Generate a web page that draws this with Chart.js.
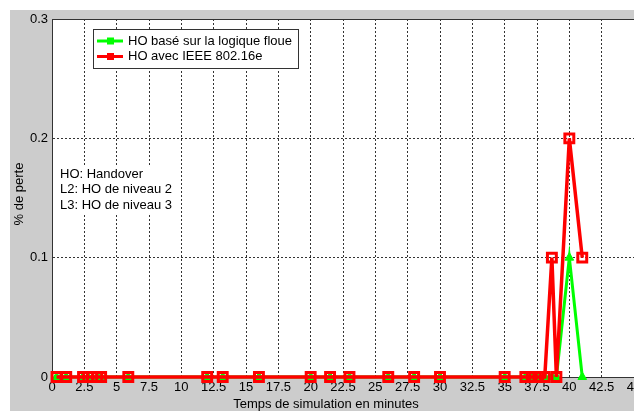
<!DOCTYPE html>
<html>
<head>
<meta charset="utf-8">
<script src="https://cdn.jsdelivr.net/npm/chart.js@4.4.1/dist/chart.umd.min.js"></script>
<style>
  html, body { margin: 0; padding: 0; background: #ffffff; width: 634px; height: 411px; overflow: hidden; }
  #graphe { position: absolute; left: 10px; top: 10px; background: #cccccc; }
</style>
</head>
<body>
<canvas id="graphe" width="624" height="401"></canvas>
<script>
// temps de simulation (minutes)
var simTimes = [0.35, 1.1, 2.4, 2.8, 3.5, 3.8, 5.9, 12, 13.2, 16, 20, 21.5, 23, 26, 28, 30, 35, 36.6, 37.1, 37.6, 38.1, 38.65, 39, 40, 41];
// % de perte
var perteFloue = [0, 0, 0, 0, 0, 0, 0, 0, 0, 0, 0, 0, 0, 0, 0, 0, 0, 0, 0, 0, 0, 0, 0, 0.1, 0];
var perteIEEE  = [0, 0, 0, 0, 0, 0, 0, 0, 0, 0, 0, 0, 0, 0, 0, 0, 0, 0, 0, 0, 0, 0.1, 0, 0.2, 0.1];

var seriesNames = ['HO basé sur la logique floue', 'HO avec IEEE 802.16e'];
var xTickLabels = ['0', '2.5', '5', '7.5', '10', '12.5', '15', '17.5', '20', '22.5', '25', '27.5', '30', '32.5', '35', '37.5', '40', '42.5', '45'];
var yTickLabels = ['0', '0.1', '0.2', '0.3'];
var notes = ['HO: Handover', 'L2: HO de niveau 2', 'L3: HO de niveau 3'];
var xTitle = 'Temps de simulation en minutes';
var yTitle = '% de perte';

var police = '13px "Liberation Sans", Arial, sans-serif';

function points(values) {
    return simTimes.map(function (t, i) { return { x: t, y: values[i] }; });
}

var decor = {
    id: 'decor',
    beforeDraw: function (chart) {
        var a = chart.chartArea, ctx = chart.ctx;
        ctx.save();
        ctx.fillStyle = '#ffffff';
        ctx.fillRect(a.left, a.top, a.right - a.left, a.bottom - a.top);
        ctx.restore();
    },
    beforeDatasetsDraw: function (chart) {
        var a = chart.chartArea, ctx = chart.ctx;
        ctx.save();
        // bord du haut
        ctx.strokeStyle = '#333333';
        ctx.lineWidth = 1;
        ctx.beginPath();
        ctx.moveTo(a.left, a.top + 0.5);
        ctx.lineTo(a.right, a.top + 0.5);
        ctx.stroke();

        // notes (fond blanc qui cache la grille)
        ctx.font = police;
        ctx.fillStyle = '#ffffff';
        ctx.fillRect(a.left + 5, a.top + 146, 118, 48);
        ctx.fillStyle = '#000000';
        ctx.textBaseline = 'middle';
        ctx.textAlign = 'left';
        notes.forEach(function (t, i) {
            ctx.fillText(t, a.left + 8, a.top + 155 + i * 15.5);
        });
        ctx.restore();
    },
    afterDraw: function (chart) {
        var a = chart.chartArea, ctx = chart.ctx;
        ctx.save();
        ctx.font = police;
        ctx.fillStyle = '#000000';
        ctx.textBaseline = 'middle';

        // titres des axes
        ctx.textAlign = 'center';
        ctx.fillText(xTitle, 316, 394);
        ctx.save();
        ctx.translate(9, 184);
        ctx.rotate(-Math.PI / 2);
        ctx.fillText(yTitle, 0, 0);
        ctx.restore();

        // legende
        var bx = a.left + 41, by = a.top + 10, bw = 205, bh = 39;
        ctx.fillStyle = '#ffffff';
        ctx.fillRect(bx, by, bw, bh);
        ctx.strokeStyle = '#333333';
        ctx.lineWidth = 1;
        ctx.strokeRect(bx + 0.5, by + 0.5, bw, bh);
        chart.data.datasets.forEach(function (ds, i) {
            var y = by + 12 + i * 15.5;
            ctx.strokeStyle = ds.borderColor;
            ctx.lineWidth = 3;
            ctx.beginPath();
            ctx.moveTo(bx + 4, y);
            ctx.lineTo(bx + 30, y);
            ctx.stroke();
            ctx.fillStyle = ds.borderColor;
            ctx.fillRect(bx + 14, y - 3.5, 7, 7);
            ctx.fillStyle = '#000000';
            ctx.textAlign = 'left';
            ctx.fillText(ds.label, bx + 35, y);
        });
        ctx.restore();
    }
};

new Chart(document.getElementById('graphe'), {
    type: 'line',
    data: {
        datasets: [{
            label: seriesNames[0],
            data: points(perteFloue),
            borderColor: '#00ff00',
            backgroundColor: '#00ff00',
            borderWidth: 3,
            pointStyle: 'triangle',
            pointRadius: 5,
            pointBorderWidth: 1,
            order: 1,
            clip: false
        }, {
            label: seriesNames[1],
            data: points(perteIEEE),
            borderColor: '#ff0000',
            backgroundColor: 'rgba(255,255,255,0)',
            borderWidth: 3.5,
            pointStyle: 'rect',
            pointRadius: 6.3,
            pointBorderWidth: 3,
            order: 0,
            clip: false
        }]
    },
    options: {
        responsive: false,
        animation: false,
        devicePixelRatio: 1,
        layout: { autoPadding: false, padding: { top: 9, left: 0, right: 0, bottom: 0 } },
        plugins: {
            legend: { display: false },
            tooltip: { enabled: false }
        },
        scales: {
            x: {
                type: 'linear',
                min: 0,
                max: 45,
                afterFit: function (s) { s.height = 34; s.paddingLeft = 0; s.paddingRight = 0; },
                ticks: {
                    stepSize: 2.5,
                    autoSkip: false,
                    maxRotation: 0,
                    padding: 3,
                    color: '#000000',
                    font: { family: '"Liberation Sans", Arial, sans-serif', size: 13 },
                    callback: function (v, i) { return xTickLabels[i]; }
                },
                grid: { color: '#333333', drawTicks: false },
                border: { color: '#333333', dash: function (c) { return c.type === 'tick' ? [2, 2] : []; } }
            },
            y: {
                min: 0,
                max: 0.3,
                afterFit: function (s) { s.width = 42; s.paddingTop = 0; s.paddingBottom = 0; },
                ticks: {
                    stepSize: 0.1,
                    padding: 4,
                    color: '#000000',
                    font: { family: '"Liberation Sans", Arial, sans-serif', size: 13 },
                    callback: function (v, i) { return yTickLabels[i]; }
                },
                grid: { color: '#333333', drawTicks: false },
                border: { color: '#333333', dash: function (c) { return c.type === 'tick' ? [2, 2] : []; } }
            }
        }
    },
    plugins: [decor]
});
</script>
</body>
</html>
